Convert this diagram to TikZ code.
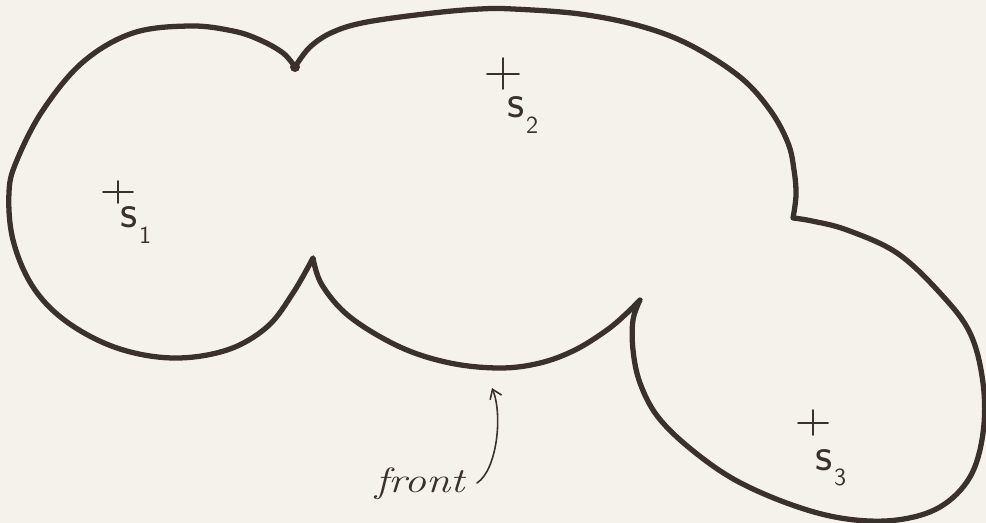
\documentclass[tikz,border=0pt]{standalone}
\usepackage{fontspec}
\usepackage{graphicx}
\usetikzlibrary{arrows.meta}
\definecolor{paper}{RGB}{245,241,235}
\definecolor{ink}{RGB}{58,48,44}
\newcommand{\sitelabel}[1]{{\fontsize{27}{30}\selectfont s}\kern1pt\raisebox{-9pt}{\fontsize{14}{16}\selectfont #1}}
\begin{document}
\begin{tikzpicture}[x=0.02cm,y=-0.02cm,
  outline/.style={draw=ink, line width=3pt, line cap=round, line join=round},
  plusmark/.style={draw=ink, line width=1.1pt, line cap=round},
  sitelbl/.style={text=ink, inner sep=0pt, anchor=base west, font=\sffamily},
  frontlbl/.style={text=ink, inner sep=1pt, anchor=base, font=\itshape\fontsize{20}{24}\selectfont},
  pointer/.style={draw=ink, line width=0.9pt, line cap=round, -{Straight Barb[length=5pt,width=7pt]}}]
\fill[paper] (0,0) rectangle (986,523);
\useasboundingbox (0,0) rectangle (986,523);

% outline of the union of circles
\draw[outline]
  plot[smooth, tension=0.6] coordinates {(295,67) (283,53) (260,40) (233,31) (190,26) (133,33) (83,62) (43,110) (17,160) (9,192) (13,240) (33,287) (67,322) (117,348) (173,358) (227,350) (267,327) (293,293) (313,258)}
  -- plot[smooth, tension=0.6] coordinates {(313,258) (322,285) (350,317) (400,347) (450,363) (500,368) (540,363) (575,350) (607,330) (627,313) (640,300)}
  -- plot[smooth, tension=0.6] coordinates {(640,300) (633,320) (633,350) (640,383) (658,417) (692,450) (737,481) (795,506) (847,519) (897,520) (940,507) (970,477) (983,433) (983,383) (970,333) (940,293) (897,253) (847,230) (812,221) (793,218)}
  -- plot[smooth, tension=0.6] coordinates {(793,218) (796,195) (794,170) (788,143) (770,110) (740,77) (690,45) (640,26) (580,14) (513,9) (480,9) (433,13) (367,22) (333,32) (310,47) (295,67)}
  -- cycle;
\fill[ink] (295,67) circle[radius=5];

% site markers
\coordinate (p1) at (118,192);
\coordinate (p2) at (503,74);
\coordinate (p3) at (813,423);
\draw[plusmark] (p1) ++(-15,0) -- ++(30,0) (p1) ++(0,-11) -- ++(0,22);
\draw[plusmark] (p2) ++(-16,0) -- ++(32,0) (p2) ++(0,-16) -- ++(0,31);
\draw[plusmark] (p3) ++(-15,0) -- ++(30,0) (p3) ++(0,-13) -- ++(0,25);

\node[sitelbl] (s1) at (120,228) {\sitelabel{1}};
\node[sitelbl] (s2) at (507,118) {\sitelabel{2}};
\node[sitelbl] (s3) at (815,470) {\sitelabel{3}};

% front label and pointer
\node[frontlbl] (front) at (420,492) {\scalebox{1.25}[1]{front}};
\coordinate (ftail) at (477,483);
\coordinate (ftip) at (492,388);
\draw[pointer] (ftail) .. controls (497,470) and (503,415) .. (ftip);
\end{tikzpicture}
\end{document}
